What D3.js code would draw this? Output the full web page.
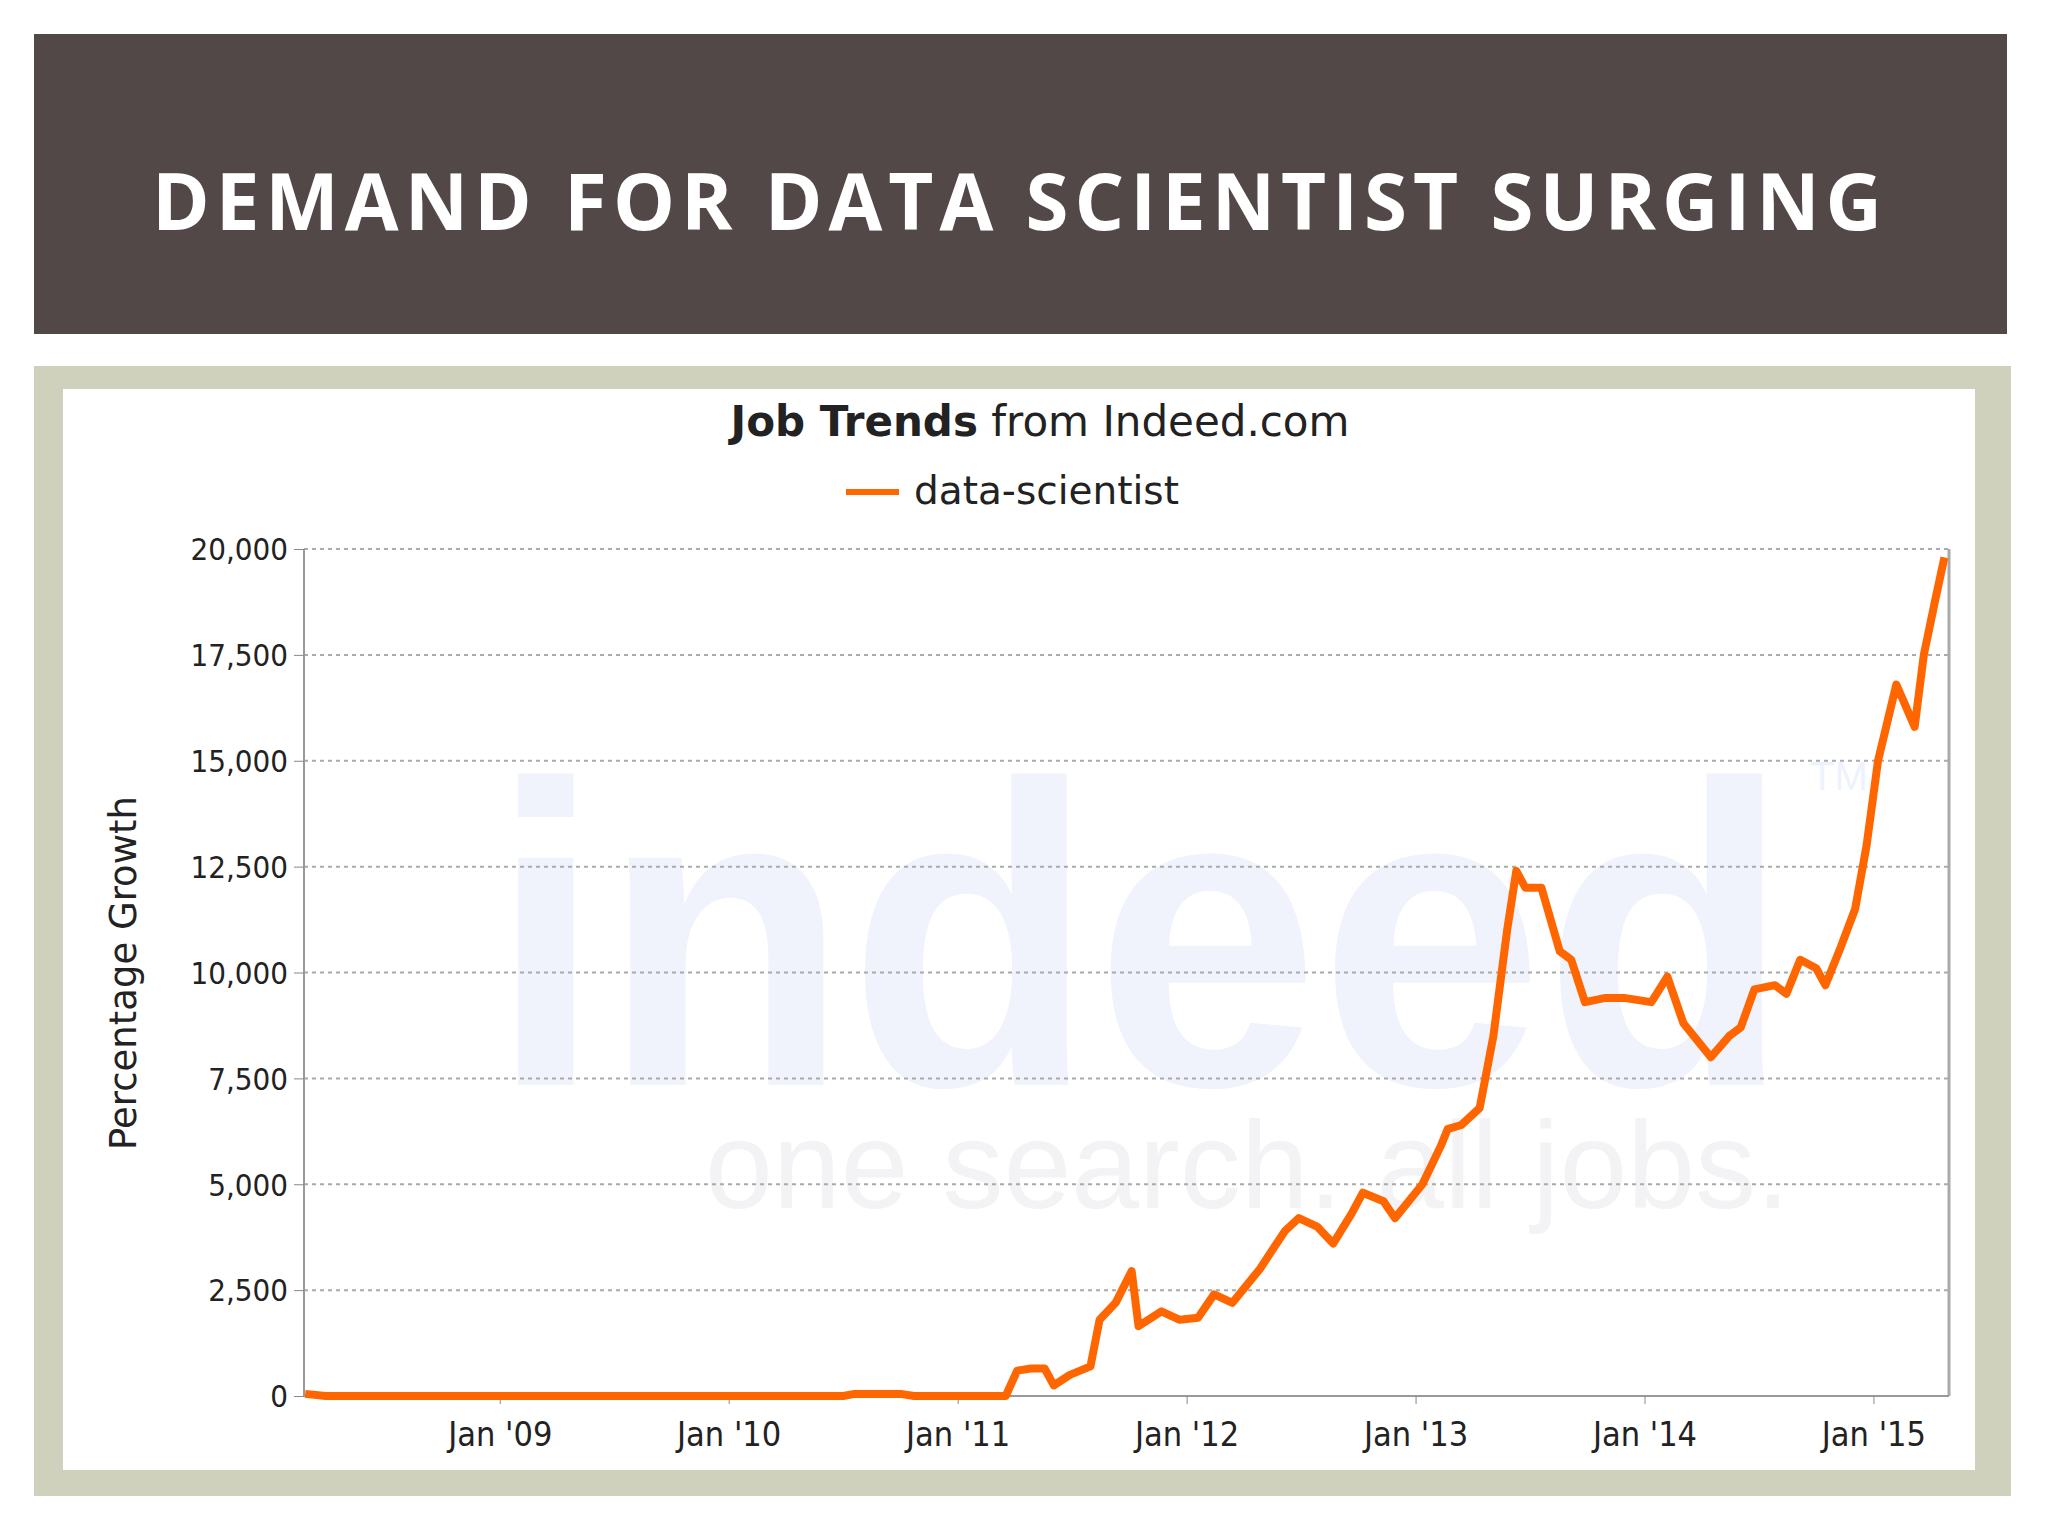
<!DOCTYPE html>
<html><head><meta charset="utf-8">
<script src="https://cdn.jsdelivr.net/npm/d3@7"></script>
<style>body{margin:0;background:#fff}svg{display:block}</style>
</head><body>
<script>
const times=[2008.15,2008.24,2010.5,2010.55,2010.75,2010.81,2011.21,2011.26,2011.32,2011.38,2011.42,2011.49,2011.58,2011.62,2011.69,2011.76,2011.79,2011.89,2011.97,2012.05,2012.12,2012.20,2012.32,2012.43,2012.49,2012.57,2012.64,2012.72,2012.77,2012.86,2012.91,2012.97,2013.03,2013.11,2013.14,2013.20,2013.28,2013.34,2013.40,2013.44,2013.48,2013.55,2013.63,2013.68,2013.74,2013.83,2013.91,2014.03,2014.10,2014.17,2014.23,2014.29,2014.37,2014.42,2014.48,2014.57,2014.62,2014.68,2014.75,2014.79,2014.85,2014.92,2014.97,2015.02,2015.10,2015.14,2015.18,2015.22,2015.27,2015.31];
const values=[50,0,0,50,50,0,0,600,650,650,250,500,700,1800,2200,2950,1650,2000,1800,1850,2400,2200,3000,3900,4200,4000,3600,4300,4800,4600,4200,4600,5000,5900,6300,6400,6800,8500,11000,12400,12000,12000,10500,10300,9300,9400,9400,9300,9900,8800,8400,8000,8500,8700,9600,9700,9500,10300,10100,9700,10500,11500,13000,15000,16800,16300,15800,17500,18800,19800];
const yTicks=[0,2500,5000,7500,10000,12500,15000,17500,20000];
const xTicks=[2009,2010,2011,2012,2013,2014,2015];
const xTickLabels=["Jan '09","Jan '10","Jan '11","Jan '12","Jan '13","Jan '14","Jan '15"];

const W=2048,H=1536;
const svg=d3.select("body").append("svg").attr("width",W).attr("height",H);
svg.append("rect").attr("x",34).attr("y",34).attr("width",1973).attr("height",300).attr("fill","#534848");
svg.append("text").attr("x",1020).attr("y",230).attr("text-anchor","middle").attr("fill","#fff")
 .attr("font-family","Open Sans, sans-serif").attr("font-weight",700).attr("font-size",78).attr("letter-spacing",6)
 .text("DEMAND FOR DATA SCIENTIST SURGING");
svg.append("rect").attr("x",34).attr("y",366).attr("width",1977).attr("height",1130).attr("fill","#cfd1bd");
svg.append("rect").attr("x",63).attr("y",389).attr("width",1912).attr("height",1081).attr("fill","#fff");

const L=304,R=1949,T=549,B=1396;
// watermark
svg.append("text").attr("x",490).attr("y",1085).attr("font-family","Arial, Liberation Sans, sans-serif").attr("font-weight","bold")
 .attr("font-size",430).attr("fill","#f0f3fc").attr("textLength",1300).attr("lengthAdjust","spacingAndGlyphs").text("indeed");
svg.append("text").attr("x",705).attr("y",1208).attr("font-family","Arial, Liberation Sans, sans-serif")
 .attr("font-size",125).attr("fill","#f3f3f6").attr("textLength",1085).attr("lengthAdjust","spacingAndGlyphs").text("one search. all jobs.");
svg.append("text").attr("x",1810).attr("y",790).attr("font-family","Arial, sans-serif").attr("font-size",40).attr("fill","#eef2fc").text("TM");

const x=d3.scaleLinear().domain([2008.145,2015.33]).range([L,R]);
const y=d3.scaleLinear().domain([0,20000]).range([B,T]);
const g=svg.append("g");
g.selectAll(".grid").data(yTicks).join("line").attr("x1",L).attr("x2",R).attr("y1",d=>y(d)).attr("y2",d=>y(d))
 .attr("stroke","#aaa").attr("stroke-width",2).attr("stroke-dasharray","4,4");
g.append("line").attr("x1",L).attr("x2",L).attr("y1",T).attr("y2",B).attr("stroke","#999").attr("stroke-width",2);
g.append("line").attr("x1",R).attr("x2",R).attr("y1",T).attr("y2",B).attr("stroke","#aaa").attr("stroke-width",3);
g.append("line").attr("x1",L).attr("x2",R).attr("y1",B).attr("y2",B).attr("stroke","#999").attr("stroke-width",2);
const yAxis=svg.append("g").attr("transform",`translate(${L},0)`).call(d3.axisLeft(y).tickValues(yTicks).tickFormat(d3.format(",")).tickSize(10).tickPadding(6));
yAxis.select(".domain").remove();
yAxis.selectAll("line").attr("stroke","#888");
yAxis.selectAll("text").attr("font-family","DejaVu Sans Condensed, DejaVu Sans, sans-serif").attr("font-size",31).attr("fill","#222").attr("dy","0.35em");
const xAxis=svg.append("g").attr("transform",`translate(0,${B})`).call(d3.axisBottom(x).tickValues(xTicks).tickFormat((d,i)=>xTickLabels[i]).tickSize(8).tickPadding(18));
xAxis.select(".domain").remove();
xAxis.selectAll("line").attr("stroke","#888");
xAxis.selectAll("text").attr("font-family","DejaVu Sans Condensed, DejaVu Sans, sans-serif").attr("font-size",34).attr("fill","#222");

svg.append("path").datum(times.map((t,i)=>[t,values[i]])).attr("fill","none").attr("stroke","#ff6600").attr("stroke-width",8)
 .attr("stroke-linejoin","round").attr("d",d3.line().x(d=>x(d[0])).y(d=>y(d[1])));

svg.append("text").attr("transform","translate(136,973) rotate(-90)").attr("text-anchor","middle")
 .attr("font-family","DejaVu Sans, sans-serif").attr("font-size",37).attr("fill","#222").text("Percentage Growth");
const tt=svg.append("text").attr("x",1040).attr("y",436).attr("text-anchor","middle").attr("font-family","DejaVu Sans, sans-serif").attr("font-size",42).attr("fill","#222");
tt.append("tspan").attr("font-weight","bold").text("Job Trends");
tt.append("tspan").text(" from Indeed.com");
svg.append("line").attr("x1",846).attr("x2",899).attr("y1",492).attr("y2",492).attr("stroke","#ff6600").attr("stroke-width",6);
svg.append("text").attr("x",914).attr("y",504).attr("font-family","DejaVu Sans, sans-serif").attr("font-size",39).attr("fill","#222").text("data-scientist");
</script>
</body></html>
